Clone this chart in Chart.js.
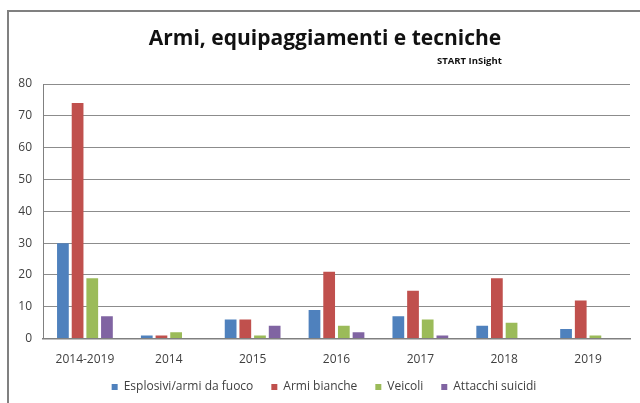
<!DOCTYPE html>
<html>
<head>
<meta charset="utf-8">
<script src="https://cdn.jsdelivr.net/npm/chart.js@4"></script>
<style>
  html, body { margin: 0; padding: 0; background: #fff; }
  #wrap { position: relative; width: 640px; height: 403px; overflow: hidden; }
  #frame { position: absolute; left: 7px; top: 10px; width: 700px; height: 500px;
           border-left: 2px solid #808080; border-top: 2px solid #808080; }
  #title { position: absolute; left: 0; width: 650px; top: 23px; text-align: center;
           font: bold 21px "Open Sans", sans-serif; color: #111; }
  #sub { position: absolute; left: 437px; top: 54px; font: bold 9.5px "Open Sans", sans-serif; color: #111; }
  canvas { position: absolute; left: 0; top: 0; }
</style>
</head>
<body>
<div id="wrap">
  <div id="frame"></div>
  <canvas id="chart" width="640" height="403"></canvas>
  <div id="title">Armi, equipaggiamenti e tecniche</div>
  <div id="sub">START InSight</div>
</div>
<script>
// categories and series
const categories = ['2014-2019', '2014', '2015', '2016', '2017', '2018', '2019'];
const esplosivi = [30, 1, 6, 9, 7, 4, 3];
const armiBianche = [74, 1, 6, 21, 15, 19, 12];
const veicoli = [19, 2, 1, 4, 6, 5, 1];
const suicidi = [7, 0, 4, 2, 1, 0, 0];
const yTicks = [0, 10, 20, 30, 40, 50, 60, 70, 80];

const series = [
  { label: 'Esplosivi/armi da fuoco', data: esplosivi, color: '#4F81BD' },
  { label: 'Armi bianche', data: armiBianche, color: '#C0504D' },
  { label: 'Veicoli', data: veicoli, color: '#9BBB59' },
  { label: 'Attacchi suicidi', data: suicidi, color: '#8064A2' },
];

// legend: wide gaps between items but a short box, like the Excel original
const LEGEND_SHRINK = 10;
const tightLegend = {
  id: 'tightLegend',
  afterInit(chart) {
    const lg = chart.legend;
    const fit = lg.fit, draw = lg.draw;
    lg.fit = function () { fit.call(this); this.height -= LEGEND_SHRINK; };
    lg.draw = function () {
      const ctx = this.ctx;
      ctx.save();
      ctx.translate(0, -LEGEND_SHRINK);
      draw.call(this);
      ctx.restore();
    };
  },
};

new Chart(document.getElementById('chart'), {
  type: 'bar',
  data: {
    labels: categories,
    datasets: series.map(s => ({
      label: s.label,
      data: s.data,
      backgroundColor: s.color,
      borderWidth: 0,
      categoryPercentage: 0.7,
      barPercentage: 0.8,
    })),
  },
  options: {
    responsive: false,
    animation: false,
    layout: { padding: { left: 18, right: 10, top: 84, bottom: 0 } },
    plugins: {
      legend: {
        position: 'bottom',
        labels: {
          boxWidth: 6, boxHeight: 6, padding: 18, color: '#404040',
          font: { family: 'Open Sans', size: 12 },
        },
      },
      tooltip: { enabled: false },
    },
    scales: {
      x: {
        grid: { display: false },
        border: { color: '#808080', width: 1.5 },
        ticks: { color: '#404040', padding: 6, font: { family: 'Open Sans', size: 12 } },
      },
      y: {
        min: 0, max: 80,
        afterBuildTicks: axis => { axis.ticks = yTicks.map(v => ({ value: v })); },
        afterFit: axis => { axis.width = 25; },
        grid: { color: '#8c8c8c', lineWidth: 1, drawTicks: false },
        border: { color: '#808080', width: 1 },
        ticks: { color: '#404040', padding: 11, font: { family: 'Open Sans', size: 12 } },
      },
    },
  },
  plugins: [tightLegend],
});
</script>
</body>
</html>
